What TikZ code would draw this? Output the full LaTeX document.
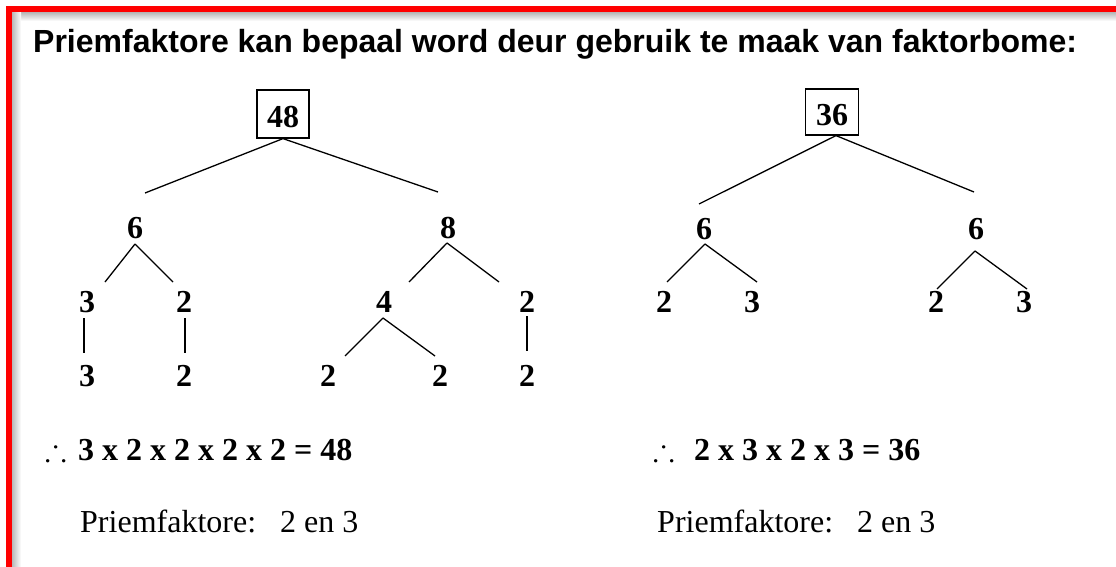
\documentclass[tikz,border=0pt]{standalone}
\usepackage{amssymb}
\usepackage{fontspec}
\setmainfont{Liberation Serif}
\setsansfont{Liberation Sans}
\usetikzlibrary{calc}
\begin{document}
\begin{tikzpicture}[x=1pt,y=-1pt,
  num/.style={inner sep=0pt,font=\fontsize{32}{38}\selectfont\bfseries},
  numbox/.style={draw,line width=1.2pt,inner sep=0pt,minimum width=52pt,minimum height=48pt,text height=27pt,text depth=0pt,font=\fontsize{32}{38}\selectfont\bfseries},
  conn/.style={line width=1.3pt},
  eqtext/.style={inner sep=0pt,anchor=base west,font=\fontsize{32}{38}\selectfont\bfseries},
  pftext/.style={inner sep=0pt,anchor=base west,font=\fontsize{32}{38}\selectfont},
  titletext/.style={inner sep=0pt,anchor=base west,font=\fontsize{32}{38}\selectfont\sffamily\bfseries}
]
\useasboundingbox (0,0) rectangle (1116,567);
\fill[white] (0,0) rectangle (1116,567);
% frame shadow
\shade[top color=gray!55,bottom color=white] (12,12.5) rectangle (1116,21);
\shade[left color=gray!55,right color=white] (12,12.5) rectangle (21,567);
% red frame
\draw[red,line width=6pt] (9,567) -- (9,9.5) -- (1116,9.5);

% title
\node[titletext] (title) at (33,53) {Priemfaktore kan bepaal word deur gebruik te maak van faktorbome:};

% tree 48
\node[numbox] (t48) at (283,114) {48};
\node[num] (a6) at (135,228) {6};
\node[num] (a8) at (448,228) {8};
\node[num] (a3) at (87,302) {3};
\node[num] (a2) at (184,302) {2};
\node[num] (a4) at (384,302) {4};
\node[num] (a2r) at (527,302) {2};
\node[num] (a3b) at (87,376) {3};
\node[num] (a2b) at (184,376) {2};
\node[num] (a2c) at (328,376) {2};
\node[num] (a2d) at (440,376) {2};
\node[num] (a2e) at (527,376) {2};

\draw[conn] (t48.south) -- ([xshift=10pt,yshift=35pt]a6.center);
\draw[conn] (t48.south) -- ([xshift=-10pt,yshift=36pt]a8.center);
\draw[conn] ([yshift=-16pt]a6.center) -- ([xshift=18pt,yshift=20pt]a3.center);
\draw[conn] ([yshift=-16pt]a6.center) -- ([xshift=-11pt,yshift=20pt]a2.center);
\draw[conn] ([xshift=-3pt,yshift=-16pt]a3.center) -- ([xshift=-3pt,yshift=23pt]a3b.center);
\draw[conn] ([xshift=1pt,yshift=-16pt]a2.center) -- ([xshift=1pt,yshift=23pt]a2b.center);
\draw[conn] ([xshift=-1pt,yshift=-15pt]a8.center) -- ([xshift=25pt,yshift=20pt]a4.center);
\draw[conn] ([xshift=-1pt,yshift=-15pt]a8.center) -- ([xshift=-28pt,yshift=20pt]a2r.center);
\draw[conn] ([xshift=-1pt,yshift=-16pt]a4.center) -- ([xshift=17pt,yshift=20pt]a2c.center);
\draw[conn] ([xshift=-1pt,yshift=-16pt]a4.center) -- ([xshift=-5pt,yshift=20pt]a2d.center);
\draw[conn] ([yshift=-14pt]a2r.center) -- ([yshift=25pt]a2e.center);

% tree 36
\node[numbox,minimum width=53pt,minimum height=46pt] (t36) at (832,112) {36};
\node[num] (b6) at (704,229) {6};
\node[num] (c6) at (976,229) {6};
\node[num] (b2) at (664,302) {2};
\node[num] (b3) at (752,302) {3};
\node[num] (c2) at (936,302) {2};
\node[num] (c3) at (1024,302) {3};

\draw[conn] ([xshift=4pt]t36.south) -- ([xshift=-5pt,yshift=25pt]b6.center);
\draw[conn] ([xshift=4pt]t36.south) -- ([xshift=-2pt,yshift=37pt]c6.center);
\draw[conn] ([xshift=1pt,yshift=-15pt]b6.center) -- ([xshift=3pt,yshift=20pt]b2.center);
\draw[conn] ([xshift=1pt,yshift=-15pt]b6.center) -- ([xshift=5pt,yshift=20pt]b3.center);
\draw[conn] ([xshift=-1pt,yshift=-22pt]c6.center) -- ([xshift=1pt,yshift=13pt]c2.center);
\draw[conn] ([xshift=-1pt,yshift=-22pt]c6.center) -- ([xshift=3pt,yshift=13pt]c3.center);

% equations
\node[pftext] (th1) at (45,460) {$\therefore$};
\node[eqtext] (eq1) at (78,460) {3 x 2 x 2 x 2 x 2 = 48};
\node[pftext] (th2) at (653,460) {$\therefore$};
\node[eqtext] (eq2) at (694,460) {2 x 3 x 2 x 3 = 36};
\node[pftext] (pf1) at (80,532) {Priemfaktore:~~~2 en 3};
\node[pftext] (pf2) at (657,532) {Priemfaktore:~~~2 en 3};
\end{tikzpicture}
\end{document}
